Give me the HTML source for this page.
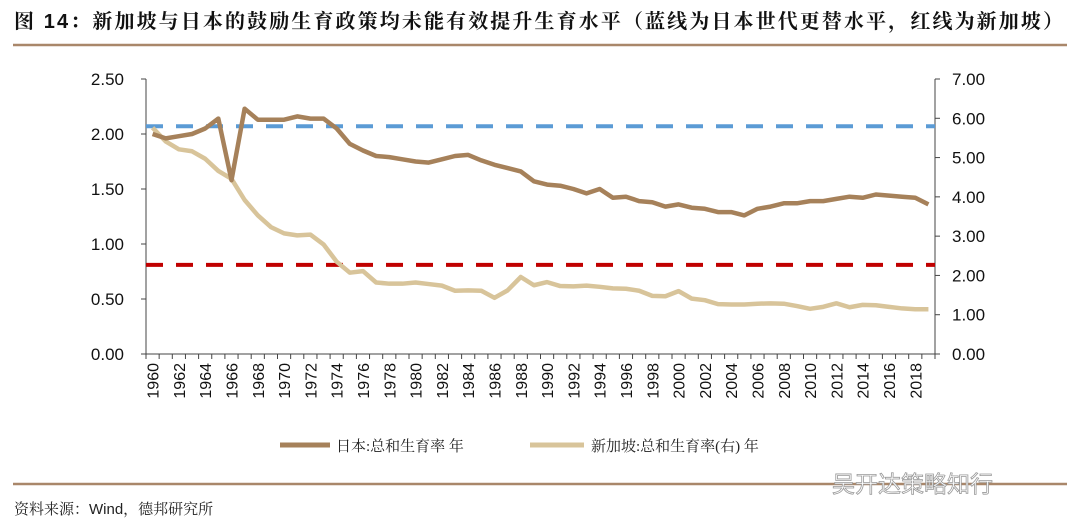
<!DOCTYPE html>
<html><head><meta charset="utf-8"><style>
body{margin:0;background:#fff;width:1080px;height:529px;overflow:hidden;font-family:"Liberation Sans","Noto Sans CJK SC",sans-serif}
svg{display:block}
</style></head><body>
<svg width="1080" height="529" id="c">
<text x="14" y="28" font-size="20" font-weight="bold" fill="#111" textLength="1049" lengthAdjust="spacing" font-family="Liberation Sans,Noto Serif CJK SC,serif">图 14：新加坡与日本的鼓励生育政策均未能有效提升生育水平（蓝线为日本世代更替水平，红线为新加坡）</text>
<line x1="13" y1="45" x2="1067" y2="45" stroke="#a9876a" stroke-width="2.5"/>
<line x1="13" y1="484" x2="1067" y2="484" stroke="#a9876a" stroke-width="2.5"/>
<text x="14" y="514" font-size="15" fill="#222" font-family="Liberation Sans,Noto Serif CJK SC,serif">资料来源：Wind，德邦研究所</text>
<text x="832" y="492" font-size="23" fill="#fff" stroke="#999" stroke-width="0.8">吴开达策略知行</text>
<g id="plot"></g>
<line x1="280" y1="445" x2="330" y2="445" stroke="#a6815a" stroke-width="5"/>
<text x="336" y="451" font-size="15" fill="#222" font-family="Liberation Serif,Noto Serif CJK SC,serif">日本:总和生育率 年</text>
<line x1="530" y1="445" x2="584" y2="445" stroke="#d8c49a" stroke-width="5"/>
<text x="591" y="451" font-size="15" fill="#222" font-family="Liberation Serif,Noto Serif CJK SC,serif">新加坡:总和生育率(右) 年</text>
</svg>
<script>
const years=[];for(let y=1960;y<=2019;y++)years.push(y);
const japan=[2.00,1.96,1.98,2.00,2.05,2.14,1.58,2.23,2.13,2.13,2.13,2.16,2.14,2.14,2.05,1.91,1.85,1.80,1.79,1.77,1.75,1.74,1.77,1.80,1.81,1.76,1.72,1.69,1.66,1.57,1.54,1.53,1.50,1.46,1.50,1.42,1.43,1.39,1.38,1.34,1.36,1.33,1.32,1.29,1.29,1.26,1.32,1.34,1.37,1.37,1.39,1.39,1.41,1.43,1.42,1.45,1.44,1.43,1.42,1.36];
const singapore=[5.76,5.41,5.21,5.16,4.97,4.66,4.46,3.92,3.53,3.23,3.07,3.02,3.04,2.79,2.35,2.07,2.11,1.82,1.79,1.79,1.82,1.78,1.74,1.61,1.62,1.61,1.43,1.62,1.96,1.75,1.83,1.73,1.72,1.74,1.71,1.67,1.66,1.61,1.48,1.47,1.60,1.41,1.37,1.27,1.26,1.26,1.28,1.29,1.28,1.22,1.15,1.20,1.29,1.19,1.25,1.24,1.20,1.16,1.14,1.14];
const leftTicks=[0,0.5,1,1.5,2,2.5];
const rightTicks=[0,1,2,3,4,5,6,7];
const refJapan=2.07, refSingapore=0.81;
const X0=146,X1=935,Y0=354,Y1=79;
const NS='http://www.w3.org/2000/svg';
const g=document.getElementById('plot');
const sw=(X1-X0)/years.length;
const xs=i=>X0+sw*(i+0.5);
const yl=v=>Y0-(v/2.5)*(Y0-Y1);
const yr=v=>Y0-(v/7)*(Y0-Y1);
function mk(t,a){const e=document.createElementNS(NS,t);for(const k in a)e.setAttribute(k,a[k]);g.appendChild(e);return e;}
let e;
e=mk('line',{x1:X0,y1:Y1,x2:X0,y2:Y0,stroke:'#444'});


e=mk('line',{x1:X1,y1:Y1,x2:X1,y2:Y0,stroke:'#444'});


e=mk('line',{x1:X0,y1:Y0,x2:X1,y2:Y0,stroke:'#444'});


leftTicks.forEach(v=>{mk('line',{x1:X0-5,x2:X0,y1:yl(v),y2:yl(v),stroke:'#444'});
e=mk('text',{x:X0-22,y:yl(v)+6,'font-size':17,'text-anchor':'end',fill:'#111'});e.textContent=v.toFixed(2);

});
rightTicks.forEach(v=>{mk('line',{x1:X1,x2:X1+5,y1:yr(v),y2:yr(v),stroke:'#444'});
e=mk('text',{x:X1+17,y:yr(v)+6,'font-size':17,fill:'#111'});e.textContent=v.toFixed(2);

});
for(let i=0;i<=years.length;i++)mk('line',{x1:X0+sw*i,x2:X0+sw*i,y1:Y0,y2:Y0+5,stroke:'#444'});
years.forEach((y,i)=>{if(i%2)return;const x=xs(i)+6,yy=Y0+9;
e=mk('text',{x:x,y:yy,'font-size':16,'text-anchor':'end',fill:'#111',transform:`rotate(-90 ${x} ${yy})`});e.textContent=y;

});
e=mk('line',{x1:X0,x2:X1,y1:yl(refJapan),y2:yl(refJapan),stroke:'#5b9bd5','stroke-width':4,'stroke-dasharray':'17 13'});


e=mk('line',{x1:X0,x2:X1,y1:yl(refSingapore),y2:yl(refSingapore),stroke:'#c00000','stroke-width':4,'stroke-dasharray':'17 13'});


e=mk('polyline',{points:singapore.map((v,i)=>xs(i)+','+yr(v)).join(' '),fill:'none',stroke:'#d8c49a','stroke-width':4.5,'stroke-linejoin':'round'});


e=mk('polyline',{points:japan.map((v,i)=>xs(i)+','+yl(v)).join(' '),fill:'none',stroke:'#a6815a','stroke-width':4.5,'stroke-linejoin':'round'});


</script>
</body></html>
